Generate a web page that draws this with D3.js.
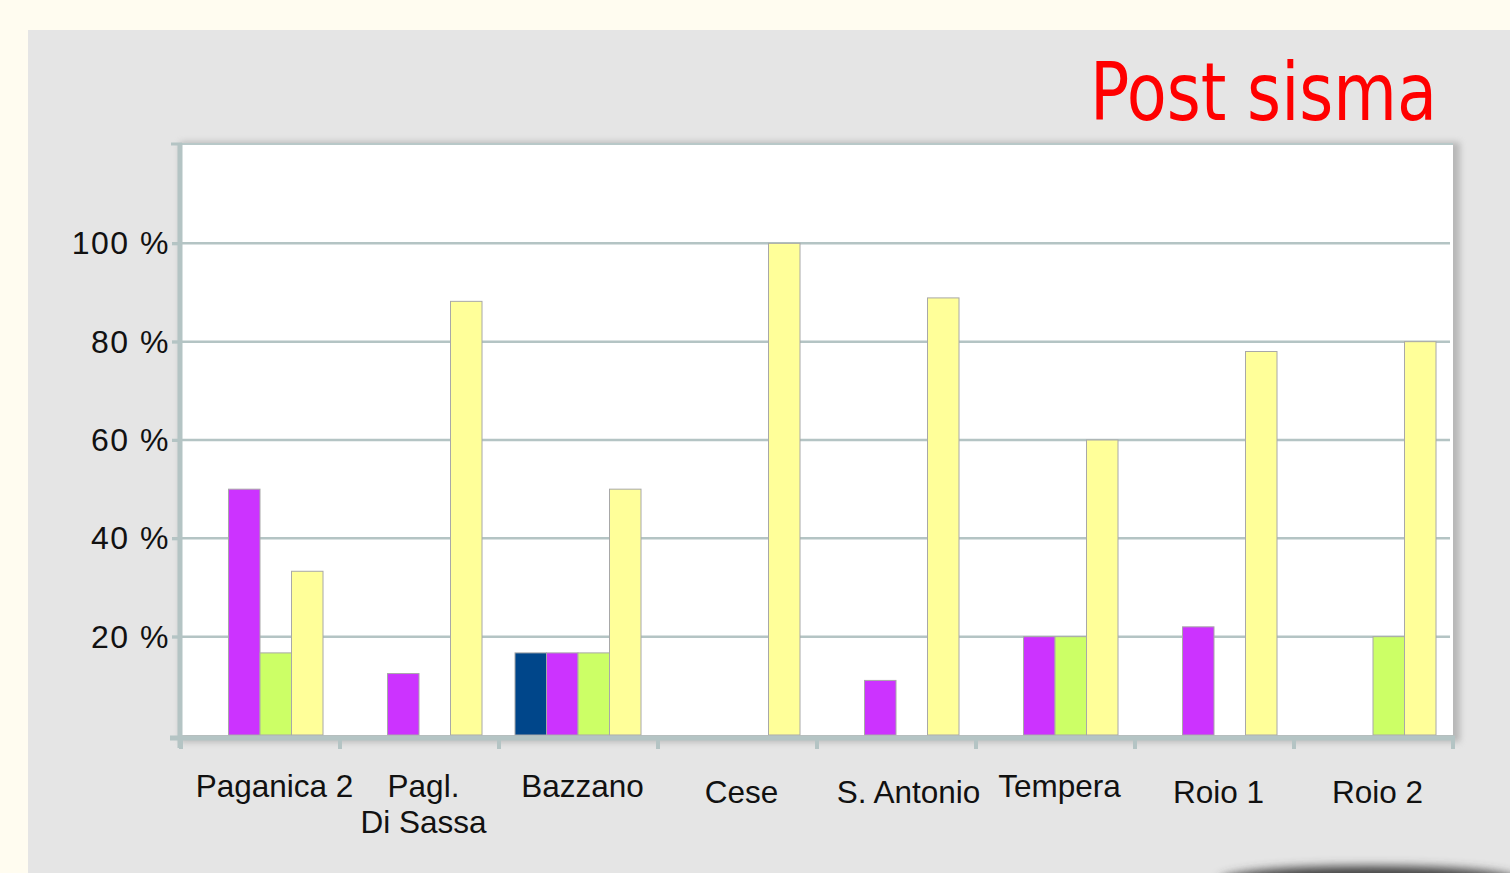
<!DOCTYPE html>
<html><head><meta charset="utf-8">
<script src="https://cdn.jsdelivr.net/npm/d3@7/dist/d3.min.js"></script>
<style>body{margin:0;background:#fffcf0;overflow:hidden}svg{display:block}</style>
</head><body><svg id="c" width="1510" height="873"></svg>
<script>
const categories = ["Paganica 2", "Pagl.\nDi Sassa", "Bazzano", "Cese", "S. Antonio", "Tempera", "Roio 1", "Roio 2"];
const seriesNames = ["s1", "s2", "s3", "s4"];
const seriesColors = ["#00468a", "#cc33ff", "#ccff66", "#ffff99"];
const s1 = [0, 0, 16.7, 0, 0, 0, 0, 0];
const s2 = [50, 12.5, 16.7, 0, 11.1, 20, 22, 0];
const s3 = [16.7, 0, 16.7, 0, 0, 20, 0, 20];
const s4 = [33.3, 88.2, 50, 100, 88.9, 60, 78, 80];
const yTicks = [20, 40, 60, 80, 100];
const title = "Post sisma";

const svg = d3.select("#c");
const defs = svg.append("defs");
const blur = defs.append("filter").attr("id","sh").attr("x","-5%").attr("y","-5%").attr("width","110%").attr("height","110%");
blur.append("feGaussianBlur").attr("stdDeviation",3);
const fb = defs.append("filter").attr("id","fb").attr("x","-20%").attr("y","-100%").attr("width","140%").attr("height","300%");
fb.append("feGaussianBlur").attr("stdDeviation",5);

// gray panel
svg.append("rect").attr("x",28).attr("y",30).attr("width",1482).attr("height",843).attr("fill","#e5e5e5");
svg.append("ellipse").attr("cx",1370).attr("cy",880).attr("rx",150).attr("ry",14).attr("fill","#444").attr("filter","url(#fb)");

const x = d3.scaleBand().domain(categories).range([181, 1453]).padding(0);
const xs = d3.scaleBand().domain(seriesNames).range([16, x.bandwidth() - 17]).padding(0);
const y = d3.scaleLinear().domain([0, 120]).range([735, 145]);

// plot area shadow + white
svg.append("rect").attr("x",180).attr("y",142).attr("width",1280).attr("height",600).attr("fill","#999").attr("opacity",0.6).attr("filter","url(#sh)");
svg.append("rect").attr("x",181).attr("y",145).attr("width",1272).attr("height",590).attr("fill","#fff");
svg.append("line").attr("x1",181).attr("x2",1453).attr("y1",144).attr("y2",144).attr("stroke","#b8c8c8").attr("stroke-width",2);

const axisColor = "#b4c4c4";
// gridlines
svg.append("g").selectAll("line").data(yTicks).join("line")
  .attr("x1",172).attr("x2",1450).attr("y1",d=>y(d)).attr("y2",d=>y(d))
  .attr("stroke",axisColor).attr("stroke-width",2.5);

// bars
const series = [s1, s2, s3, s4];
const g = svg.append("g");
series.forEach((vals, si) => {
  g.selectAll(null).data(vals.map((v,i)=>({v, c:categories[i]})).filter(d=>d.v>0)).join("rect")
    .attr("x", d => x(d.c) + xs(seriesNames[si]))
    .attr("y", d => y(d.v))
    .attr("width", xs.bandwidth())
    .attr("height", d => y(0) - y(d.v))
    .attr("fill", seriesColors[si])
    .attr("stroke", "#a8a8a8").attr("stroke-width", 1);
});

// y axis
const yAxis = svg.append("g").attr("transform","translate(180,0)")
  .call(d3.axisLeft(y).tickValues(yTicks).tickSize(8).tickFormat(d => d + " %"));
yAxis.select(".domain").remove();
svg.append("line").attr("x1",180).attr("x2",180).attr("y1",143).attr("y2",748).attr("stroke",axisColor).attr("stroke-width",5);
svg.append("line").attr("x1",171).attr("x2",182).attr("y1",144).attr("y2",144).attr("stroke",axisColor).attr("stroke-width",3);
yAxis.selectAll(".tick line").attr("stroke",axisColor).attr("stroke-width",3);
yAxis.selectAll(".tick text").attr("font-family","Liberation Sans, Arial, sans-serif").attr("font-size",32)
  .attr("letter-spacing","1.5px").attr("fill","#111").attr("x",-10).attr("dy","0.33em");

// x axis
svg.append("line").attr("x1",170).attr("x2",1455).attr("y1",738).attr("y2",738).attr("stroke",axisColor).attr("stroke-width",5);
const xtickPos = categories.map(c => x(c)).concat([x.range()[1]]);
svg.append("g").selectAll("line").data(xtickPos).join("line")
  .attr("x1",d=>d).attr("x2",d=>d).attr("y1",738).attr("y2",749)
  .attr("stroke",axisColor).attr("stroke-width",4);

const lbl = svg.append("g").attr("font-family","Liberation Sans, Arial, sans-serif").attr("font-size",31.5).attr("fill","#111").attr("text-anchor","middle");
categories.forEach((c,i) => {
  const cx = x(c) + x.bandwidth()/2 + (i===0 ? 14 : i===4 ? 12 : 4);
  const t = lbl.append("text").attr("x", cx).attr("y", 797 + (i===3||i===4||i===6||i===7 ? 6 : 0));
  c.split("\n").forEach((line, j) => t.append("tspan").attr("x", cx).attr("dy", j===0?0:36).text(line));
});

// title
svg.append("text").attr("x",1437).attr("y",120).attr("text-anchor","end")
  .attr("font-family","DejaVu Sans Condensed, DejaVu Sans, sans-serif").attr("font-size",80)
  .attr("fill","#ff0000").attr("textLength",347).attr("lengthAdjust","spacingAndGlyphs").text(title);
</script></body></html>
